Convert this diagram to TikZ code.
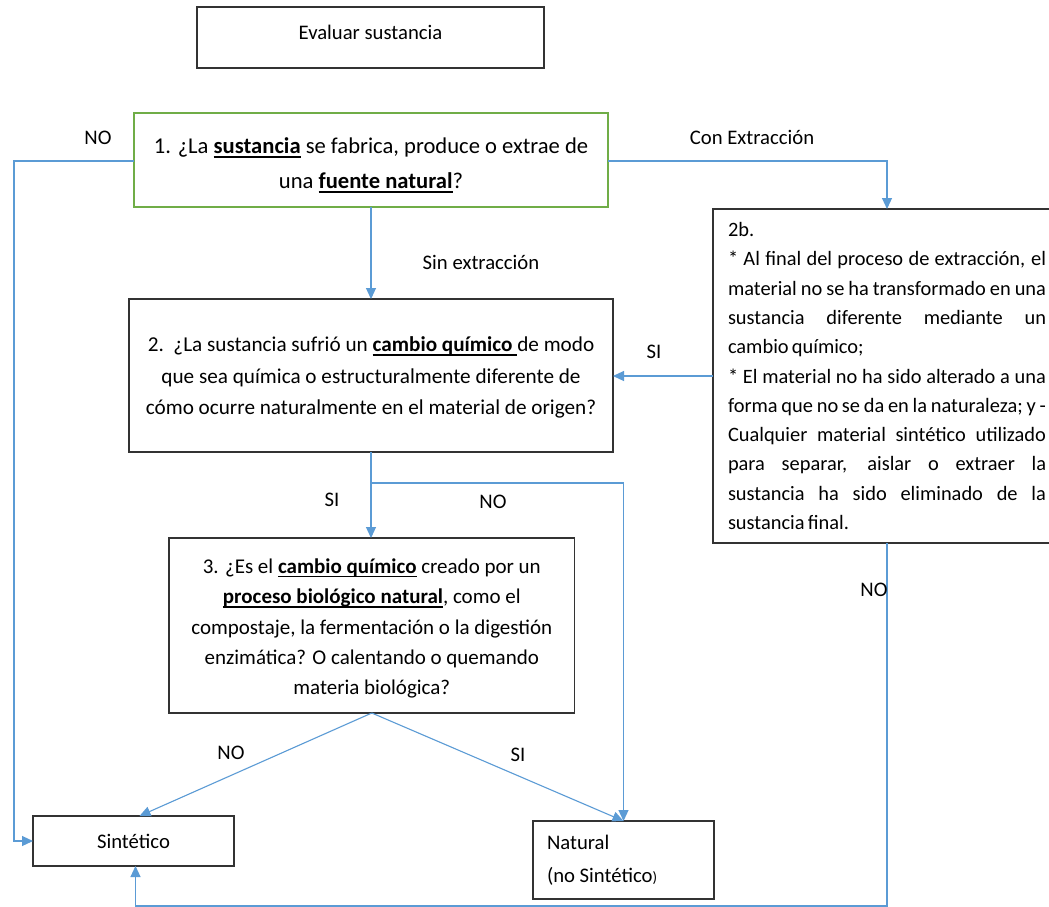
\documentclass[tikz,border=0pt]{standalone}
\usepackage{fontspec}
\setmainfont{Carlito}
\usetikzlibrary{arrows.meta}
\definecolor{connblue}{RGB}{91,155,213}
\definecolor{boxgreen}{RGB}{112,173,71}
\newcommand\myul[1]{\setbox0\hbox{\textbf{#1}}\rlap{\rule[-4pt]{\wd0}{1.5pt}}\box0\relax}
\newcommand\jline[1]{\makebox[318pt][s]{\spaceskip=.16em plus 2em minus .05em\relax #1}}
\newcommand\natsp{\spaceskip=0pt\xspaceskip=0pt\relax}
\begin{document}
\begin{tikzpicture}[x=1pt,y=-1pt,
  box/.style={draw=black!80,line width=1.2pt,inner sep=0pt,outer sep=0pt,
    font=\fontsize{20.7}{31}\selectfont,align=center},
  boxtext/.style={inner sep=0pt,outer sep=0pt,align=center},
  arrowline/.style={draw=connblue,line width=1.1pt,-{Triangle[length=11pt,width=10pt]}},
  lab/.style={font=\fontsize{20.7}{25}\selectfont,inner sep=0pt}]
\useasboundingbox (0,0) rectangle (1049,907);
\fill[white] (0,0) rectangle (1049,907);

\node[box,minimum width=347pt,minimum height=61pt,text depth=10pt,
  font=\fontsize{20.7}{25}\selectfont] (ev) at (370.5,37.5) {\natsp Evaluar sustancia};

% box 1
\node[box,draw=boxgreen,minimum width=474pt,minimum height=94pt] (b1) at (371,160) {};
\node[boxtext,font=\fontsize{22.6}{35}\selectfont] (b1t) at (371,165.5)
  {\natsp 1. ¿La \myul{sustancia} se fabrica, produce o extrae de\\una \myul{fuente natural}?};

% box 2
\node[box,minimum width=484pt,minimum height=153pt] (b2) at (371,375.5) {};
\node[boxtext,font=\fontsize{21.2}{31.5}\selectfont] (b2t) at (371,377.5)
  {\natsp 2.\ \ ¿La sustancia sufrió un \myul{cambio químico\ }de modo\\que sea química o estructuralmente diferente de\\cómo ocurre naturalmente en el material de origen?};

% box 3
\node[box,minimum width=405.5pt,minimum height=175pt] (b3) at (371.8,625.5) {};
\node[boxtext,font=\fontsize{21}{30.4}\selectfont] (b3t) at (371.8,628.5)
  {\natsp 3. ¿Es el \myul{cambio químico} creado por un\\\myul{proceso biológico natural}, como el\\compostaje, la fermentación o la digestión\\enzimática? O calentando o quemando\\materia biológica?};

\node[box,minimum width=201pt,minimum height=50pt] (sint) at (133.5,841) {Sintético};

\node[box,minimum height=78pt,align=left,text width=153pt,inner xsep=14pt,
  font=\fontsize{20.7}{32.7}\selectfont] (nat) at (623.5,860)
  {\natsp Natural\\(no Sintético{\fontsize{15}{15}\selectfont)}};

\node[box,align=left,text width=318pt,inner xsep=15pt,minimum height=334pt,
  font=\fontsize{20.4}{29.3}\selectfont] (b2b) at (887,376)
  {2b.\\
   \jline{* Al final del proceso de extracción, el}\\
   \jline{material no se ha transformado en una}\\
   \jline{sustancia diferente mediante un}\\
   \spaceskip=.16em\relax cambio químico;\\
   \jline{* El material no ha sido alterado a una}\\
   \jline{forma que no se da en la naturaleza; y -}\\
   \jline{Cualquier material sintético utilizado}\\
   \jline{para separar, aislar o extraer la}\\
   \jline{sustancia ha sido eliminado de la}\\
   \spaceskip=.16em\relax sustancia final.};

\coordinate (L) at (14,0);
\coordinate (br) at (372,483);
\coordinate (yb) at (0,906);
\coordinate (ybox1) at (0,161);

\draw[arrowline] (b1.west |- ybox1) -- (L |- ybox1) |- (sint.west);
\draw[arrowline] (b1.east |- ybox1) -| (b2b.north);
\draw[arrowline] (b1.south) -- (b1.south |- b2.north);
\draw[arrowline] (b2b.west) -- (b2.east |- b2b.west);
\draw[arrowline] (b2.south) -- (b2.south |- b3.north);
\draw[arrowline] (br) -| (nat.north);
\draw[arrowline] (b3.south) -- ([xshift=6pt]sint.north);
\draw[arrowline] (b3.south) -- (nat.north);
\draw[arrowline] (b2b.south) -- (b2b.south |- yb) -| ([xshift=2pt]sint.south);

\node[lab] (lno1) at (98,138) {NO};
\node[lab] (lcon) at (752,137) {Con Extracción};
\node[lab] (lsin) at (481,262) {Sin extracción};
\node[lab] (lsi1) at (654,352) {SI};
\node[lab] (lsi2) at (332,500) {SI};
\node[lab] (lno2) at (493,502) {NO};
\node[lab] (lno3) at (874,590) {NO};
\node[lab] (lno4) at (231,753) {NO};
\node[lab] (lsi3) at (518,755) {SI};
\end{tikzpicture}
\end{document}
